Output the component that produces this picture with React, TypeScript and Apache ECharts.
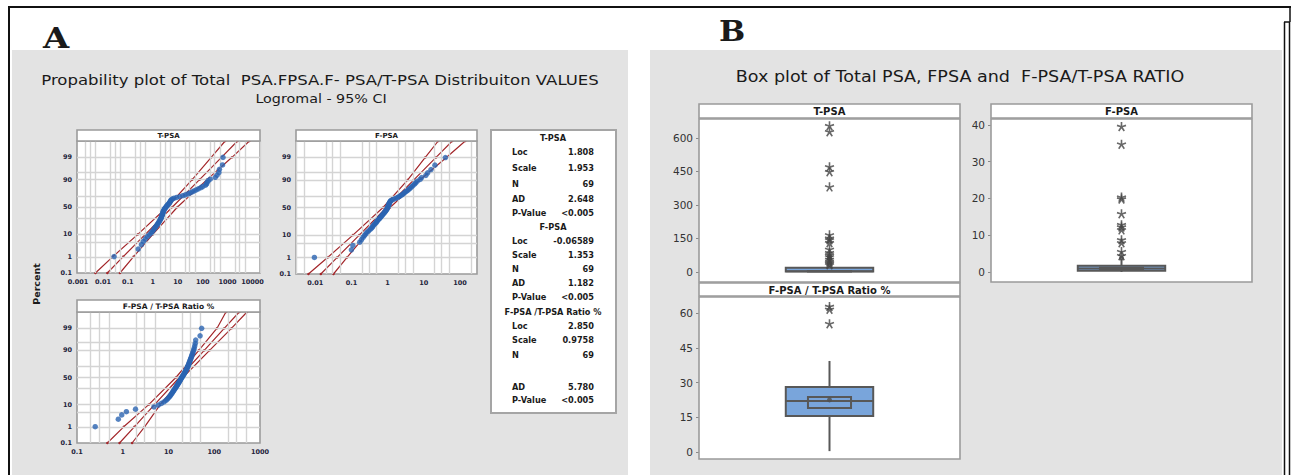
import React, { useEffect, useRef } from "react";
import * as echarts from "echarts";

// ---------------- DATA ----------------
const percentTicks = ["0.1", "1", "10", "50", "90", "99", "99.9"];
const percentGridLines = [1, 5, 10, 30, 50, 70, 90, 95, 99];
const fitPercents = [0.1, 1, 10, 50, 90, 99, 99.9];

const tpsaXTicks = ["0.001", "0.01", "0.1", "1", "10", "100", "1000", "10000"];
const fpsaXTicks = ["0.01", "0.1", "1", "10", "100"];
const ratioXTicks = ["0.1", "1", "10", "100", "1000"];

// sorted sample values (N = 69)
const tpsaValues = [0.028, 0.26, 0.35, 0.42, 0.5, 0.6, 0.72, 0.85, 0.95, 1.05, 1.15, 1.25, 1.35, 1.45, 1.55, 1.65, 1.75, 1.85, 1.95, 2.05, 2.1, 2.2, 2.25, 2.3, 2.4, 2.45, 2.5, 2.55, 2.6, 2.7, 2.8, 2.9, 3.0, 3.2, 3.4, 3.6, 3.8, 4.0, 4.3, 4.6, 4.8, 5.0, 5.2, 5.5, 6.0, 7.0, 9.0, 12, 16, 20, 26, 31, 38, 45, 55, 67, 85, 100, 130, 143, 150, 165, 200, 320, 380, 448, 470, 627, 654];
const fpsaValues = [0.0095, 0.1, 0.11, 0.17, 0.19, 0.21, 0.23, 0.25, 0.27, 0.3, 0.33, 0.36, 0.38, 0.4, 0.42, 0.45, 0.48, 0.5, 0.52, 0.55, 0.58, 0.61, 0.64, 0.67, 0.7, 0.73, 0.76, 0.8, 0.83, 0.86, 0.9, 0.93, 0.96, 0.98, 1.0, 1.02, 1.04, 1.06, 1.08, 1.1, 1.13, 1.16, 1.2, 1.25, 1.4, 1.6, 1.8, 2.0, 2.2, 2.4, 2.6, 2.8, 3.0, 3.3, 3.6, 3.9, 4.2, 4.6, 5.0, 5.5, 6.0, 6.6, 7.9, 8.7, 11.4, 12.8, 15.8, 20.3, 39.5];
const ratioValues = [0.25, 0.8, 0.95, 1.2, 1.9, 4.8, 6.0, 7.0, 8.0, 8.8, 9.4, 10.0, 10.5, 11.0, 11.4, 11.8, 12.2, 12.6, 13.0, 13.4, 13.8, 14.2, 14.6, 15.0, 15.4, 15.8, 16.2, 16.6, 17.0, 17.4, 17.8, 18.2, 18.6, 19.0, 19.5, 20.0, 20.5, 21.0, 21.5, 22.0, 22.5, 23.0, 23.5, 24.0, 24.5, 25.0, 25.5, 26.0, 26.5, 27.0, 27.5, 28.0, 28.5, 29.0, 29.6, 30.2, 30.8, 31.5, 32.2, 33.0, 33.8, 34.6, 35.5, 36.5, 37.5, 38.5, 39.3, 49, 53];

// fitted line and 95% CI bounds at fitPercents
const tpsaFit = [0.015, 0.065, 0.5, 6.1, 75, 570, 2500];
const tpsaLower = [0.005, 0.025, 0.25, 3.8, 38, 220, 800];
const tpsaUpper = [0.048, 0.17, 1.0, 9.8, 150, 1500, 7500];
const fpsaFit = [0.0143, 0.04, 0.165, 0.936, 5.3, 21.8, 61.3];
const fpsaLower = [0.0065, 0.022, 0.11, 0.75, 3.6, 11, 25];
const fpsaUpper = [0.032, 0.075, 0.25, 1.17, 7.8, 42, 140];
const ratioFit = [0.85, 1.79, 4.95, 17.3, 60.4, 167, 352];
const ratioLower = [0.46, 1.05, 3.7, 14.5, 46, 115, 180];
const ratioUpper = [1.6, 3.0, 6.6, 20.6, 79, 240, 520];

const statsLines = [
  ["T-PSA", ""], ["Loc", "1.808"], ["Scale", "1.953"], ["N", "69"], ["AD", "2.648"], ["P-Value", "<0.005"],
  ["F-PSA", ""], ["Loc", "-0.06589"], ["Scale", "1.353"], ["N", "69"], ["AD", "1.182"], ["P-Value", "<0.005"],
  ["F-PSA /T-PSA Ratio %", ""], ["Loc", "2.850"], ["Scale", "0.9758"], ["N", "69"], ["AD", "5.780"], ["P-Value", "<0.005"],
];

// box plots: [min, Q1, median, Q3, max, ciLow, ciHigh]
const tpsaBox = [0.03, 1.6, 3.3, 19, 28, 2.4, 4.6];
const fpsaBox = [0.01, 0.38, 0.95, 1.7, 3.6, 0.75, 1.2];
const ratioBox = [0.4, 15.6, 22, 28.1, 39.3, 19, 23.8];
const tpsaMean = 60;
const fpsaMean = 3.8;
const ratioMean = 22.5;
const tpsaOutliers = [654, 627, 470, 448, 380, 165, 150, 143, 130, 100, 85, 75, 67, 55, 45, 38, 31];
const fpsaOutliers = [39.5, 34.7, 20.3, 19.8, 15.8, 12.8, 12.2, 11.4, 8.7, 7.9, 5.5, 4.4];
const ratioOutliers = [62.7, 61.5, 55.3];
const tpsaBoxTicks = [0, 150, 300, 450, 600];
const fpsaBoxTicks = [0, 10, 20, 30, 40];
const ratioBoxTicks = [0, 15, 30, 45, 60];

// ---------------- HELPERS ----------------
function probit(p: number): number {
  const a = [-3.969683028665376e1, 2.209460984245205e2, -2.759285104469687e2, 1.38357751867269e2, -3.066479806614716e1, 2.506628277459239];
  const b = [-5.447609879822406e1, 1.615858368580409e2, -1.556989798598866e2, 6.680131188771972e1, -1.328068155288572e1];
  const c = [-7.784894002430293e-3, -3.223964580411365e-1, -2.400758277161838, -2.549732539343734, 4.374664141464968, 2.938163982698783];
  const d = [7.784695709041462e-3, 3.224671290700398e-1, 2.445134137142996, 3.754408661907416];
  const pl = 0.02425;
  if (p < pl) {
    const q = Math.sqrt(-2 * Math.log(p));
    return (((((c[0] * q + c[1]) * q + c[2]) * q + c[3]) * q + c[4]) * q + c[5]) / ((((d[0] * q + d[1]) * q + d[2]) * q + d[3]) * q + 1);
  }
  if (p <= 1 - pl) {
    const q = p - 0.5, r = q * q;
    return ((((((a[0] * r + a[1]) * r + a[2]) * r + a[3]) * r + a[4]) * r + a[5]) * q) / (((((b[0] * r + b[1]) * r + b[2]) * r + b[3]) * r + b[4]) * r + 1);
  }
  const q = Math.sqrt(-2 * Math.log(1 - p));
  return -(((((c[0] * q + c[1]) * q + c[2]) * q + c[3]) * q + c[4]) * q + c[5]) / ((((d[0] * q + d[1]) * q + d[2]) * q + d[3]) * q + 1);
}

const FONT = "'DejaVu Sans', sans-serif";
const BLUE = "#2a64b2";
const RED = "#a3262a";
const ZMIN = probit(0.001);
const ZMAX = probit(0.999);
const ASTERISK = "path://M4.2,0 H5.8 V3.6 L9.2,2.5 L9.7,4.0 L6.3,5.1 L8.4,8.1 L7.1,9.0 L5,6.1 L2.9,9.0 L1.6,8.1 L3.7,5.1 L0.3,4.0 L0.8,2.5 L4.2,3.6 Z";

function findLabel(labels: string[], v: number, toValue: (s: string) => number) {
  for (const l of labels) if (Math.abs(toValue(l) - v) < 1e-6) return l;
  return "";
}

function probXAxis(gi: number, min: number, max: number, ticks: string[]) {
  const conv = (s: string) => Math.log10(parseFloat(s));
  return {
    type: "value", gridIndex: gi, min, max,
    axisLine: { show: false }, axisTick: { show: false }, splitLine: { show: false },
    axisLabel: {
      customValues: ticks.map(conv), formatter: (v: number) => findLabel(ticks, v, conv),
      fontSize: 6.5, fontWeight: "bold", color: "#22223a", margin: 5, fontFamily: FONT,
      showMinLabel: true, showMaxLabel: true,
    },
  };
}

function probYAxis(gi: number) {
  const conv = (s: string) => probit(parseFloat(s) / 100);
  return {
    type: "value", gridIndex: gi, min: ZMIN, max: ZMAX,
    axisLine: { show: false }, axisTick: { show: false }, splitLine: { show: false },
    axisLabel: {
      customValues: percentTicks.map(conv), formatter: (v: number) => findLabel(percentTicks, v, conv),
      fontSize: 6.5, fontWeight: "bold", color: "#22223a", margin: 5, fontFamily: FONT,
      showMinLabel: true, showMaxLabel: true,
    },
  };
}

function probSeries(gi: number, values: number[], fit: number[], lo: number[], hi: number[], decades: number[]) {
  const n = values.length;
  const pts = values.map((v, i) => [Math.log10(v), probit((i + 1 - 0.3) / (n + 0.4))]);
  const line = (arr: number[]) => arr.map((v, i) => [Math.log10(v), probit(fitPercents[i] / 100)]);
  const gridX: any[] = [];
  for (const d of decades) for (const m of [2, 3, 5]) gridX.push({ xAxis: d + Math.log10(m) });
  const gridY = percentGridLines.map((p) => ({ yAxis: probit(p / 100) }));
  const lineStyle = { color: RED, width: 1.2 };
  const common = { type: "line", xAxisIndex: gi, yAxisIndex: gi, symbol: "circle", symbolSize: 2.5, itemStyle: { color: RED }, lineStyle, silent: true };
  return [
    {
      ...common, data: line(fit), z: 2,
      markLine: {
        silent: true, symbol: ["none", "none"], label: { show: false },
        lineStyle: { color: "#d4d4d4", width: 1.4, type: "solid" }, animation: false,
        data: [...gridX, ...gridY],
      },
    },
    { ...common, data: line(lo), z: 3 },
    { ...common, data: line(hi), z: 3 },
    { type: "scatter", xAxisIndex: gi, yAxisIndex: gi, data: pts, symbolSize: 5.5, itemStyle: { color: BLUE }, z: 5, silent: true },
  ];
}

function boxRender(_params: any, api: any) {
  const v = [1, 2, 3, 4, 5, 6, 7].map((i) => api.value(i));
  const cat = api.value(0);
  const band = api.size([1, 0])[0];
  const w = band * 0.335, wi = band * 0.165;
  const y = (val: number) => api.coord([cat, val])[1];
  const cx = api.coord([cat, v[2]])[0];
  const stroke = "#585858";
  return {
    type: "group",
    children: [
      { type: "line", shape: { x1: cx, y1: y(v[1]), x2: cx, y2: y(v[0]) }, style: { stroke, lineWidth: 2 } },
      { type: "line", shape: { x1: cx, y1: y(v[3]), x2: cx, y2: y(v[4]) }, style: { stroke, lineWidth: 2 } },
      { type: "rect", shape: { x: cx - w / 2, y: y(v[3]), width: w, height: y(v[1]) - y(v[3]) }, style: { fill: "#79a5db", stroke, lineWidth: 2 } },
      { type: "line", shape: { x1: cx - w / 2, y1: y(v[2]), x2: cx + w / 2, y2: y(v[2]) }, style: { stroke, lineWidth: 2 } },
      { type: "rect", shape: { x: cx - wi / 2, y: y(v[6]), width: wi, height: y(v[5]) - y(v[6]) }, style: { fill: "none", stroke, lineWidth: 2 } },
    ],
  };
}

function boxAxes(gi: number, name: string, min: number, max: number, ticks: number[]) {
  return {
    x: {
      type: "category", gridIndex: gi, data: [name],
      axisLine: { show: false }, axisTick: { show: false }, axisLabel: { show: false }, splitLine: { show: false },
    },
    y: {
      type: "value", gridIndex: gi, min, max,
      axisLine: { show: false }, splitLine: { show: false },
      axisTick: { show: true, customValues: ticks, length: 3, lineStyle: { color: "#888" } },
      axisLabel: { customValues: ticks, fontSize: 10.5, color: "#333", margin: 6, fontFamily: FONT },
    },
  };
}

function boxSeries(gi: number, box: number[], mean: number, outliers: number[]) {
  return [
    { type: "custom", xAxisIndex: gi, yAxisIndex: gi, renderItem: boxRender, data: [[0, ...box]], encode: { x: 0, y: [1, 2, 3, 4, 5] }, z: 3, silent: true },
    { type: "scatter", xAxisIndex: gi, yAxisIndex: gi, data: [[0, mean]], symbol: "circle", symbolSize: 5, itemStyle: { color: "#505050" }, z: 4, silent: true },
    { type: "scatter", xAxisIndex: gi, yAxisIndex: gi, data: outliers.map((o) => [0, o]), symbol: ASTERISK, symbolSize: 9.5, itemStyle: { color: "#444444" }, z: 4, silent: true },
  ];
}

function text(x: number, y: number, t: string, font: string, align = "center", extra: any = {}) {
  return { type: "text", x, y, z: 20, silent: true, style: { text: t, font, fill: "#1a1a1a", textAlign: align, textVerticalAlign: "middle" }, ...extra };
}

function buildOption() {
  const gridDefs = [
    { left: 77, top: 141, width: 183, height: 132 },
    { left: 296, top: 141, width: 181, height: 133 },
    { left: 77, top: 312, width: 183, height: 131 },
    { left: 699, top: 119, width: 261, height: 163 },
    { left: 991, top: 119, width: 261, height: 163 },
    { left: 699, top: 297, width: 261, height: 162 },
  ];
  const grid = gridDefs.map((g) => ({ ...g, show: true, backgroundColor: "#ffffff", borderColor: "#9b9b9b", borderWidth: 1.6, containLabel: false, outerBoundsMode: "none", z: 1 }));

  const bT = boxAxes(3, "T-PSA", -45, 685, tpsaBoxTicks);
  const bF = boxAxes(4, "F-PSA", -2.7, 41.6, fpsaBoxTicks);
  const bR = boxAxes(5, "F-PSA / T-PSA Ratio %", -3, 66.9, ratioBoxTicks);

  const xAxis = [
    probXAxis(0, -3.04, 4.3, tpsaXTicks),
    probXAxis(1, -2.53, 2.47, fpsaXTicks),
    probXAxis(2, -1, 3, ratioXTicks),
    bT.x, bF.x, bR.x,
  ];
  const yAxis = [probYAxis(0), probYAxis(1), probYAxis(2), bT.y, bF.y, bR.y];

  const series = [
    ...probSeries(0, tpsaValues, tpsaFit, tpsaLower, tpsaUpper, [-3, -2, -1, 0, 1, 2, 3, 4]),
    ...probSeries(1, fpsaValues, fpsaFit, fpsaLower, fpsaUpper, [-3, -2, -1, 0, 1, 2]),
    ...probSeries(2, ratioValues, ratioFit, ratioLower, ratioUpper, [-1, 0, 1, 2]),
    ...boxSeries(3, tpsaBox, tpsaMean, tpsaOutliers),
    ...boxSeries(4, fpsaBox, fpsaMean, fpsaOutliers),
    ...boxSeries(5, ratioBox, ratioMean, ratioOutliers),
  ];

  const g: any[] = [];
  // gray panels
  g.push({ type: "rect", z: -5, silent: true, shape: { x: 12, y: 50, width: 616, height: 425 }, style: { fill: "#e3e3e3" } });
  g.push({ type: "rect", z: -5, silent: true, shape: { x: 650, y: 50, width: 632, height: 425 }, style: { fill: "#e3e3e3" } });
  // frame
  const black = { stroke: "#111", lineWidth: 2 };
  g.push({ type: "line", z: 20, silent: true, shape: { x1: 8, y1: 7, x2: 1291, y2: 7 }, style: black });
  g.push({ type: "line", z: 20, silent: true, shape: { x1: 9, y1: 7, x2: 9, y2: 475 }, style: black });
  g.push({ type: "line", z: 20, silent: true, shape: { x1: 1290, y1: 7, x2: 1290, y2: 22 }, style: { stroke: "#111", lineWidth: 1.5 } });
  g.push({ type: "line", z: 20, silent: true, shape: { x1: 1284, y1: 22, x2: 1290, y2: 22 }, style: { stroke: "#111", lineWidth: 1.5 } });
  g.push({ type: "line", z: 20, silent: true, shape: { x1: 1284.5, y1: 22, x2: 1284.5, y2: 475 }, style: { stroke: "#111", lineWidth: 1.5 } });
  g.push({ type: "line", z: 20, silent: true, shape: { x1: 1289.5, y1: 22, x2: 1289.5, y2: 475 }, style: { stroke: "#111", lineWidth: 1.5 } });
  // panel letters
  g.push(text(43, 38, "A", "bold 27px 'DejaVu Serif', serif", "left", { scaleX: 1.25 }));
  g.push(text(719, 32, "B", "bold 27px 'DejaVu Serif', serif", "left", { scaleX: 1.15 }));
  // titles
  g.push(text(320, 80, "Propability plot of Total  PSA.FPSA.F- PSA/T-PSA Distribuiton VALUES", `14px ${FONT}`, "center", { scaleX: 1.18 }));
  g.push(text(321, 98, "Logromal - 95% CI", `13px ${FONT}`, "center", { scaleX: 1.1 }));
  g.push(text(960, 77, "Box plot of Total PSA, FPSA and  F-PSA/T-PSA RATIO", `15px ${FONT}`, "center", { scaleX: 1.17 }));
  // strips
  const strips = [
    [77, 130, 183, 11, "T-PSA", 7],
    [296, 130, 181, 11, "F-PSA", 7],
    [77, 300, 183, 12, "F-PSA / T-PSA Ratio %", 7.5],
    [699, 104, 261, 14, "T-PSA", 10],
    [991, 104, 261, 14, "F-PSA", 10],
    [699, 283, 261, 13, "F-PSA / T-PSA Ratio %", 10],
  ] as const;
  for (const [x, y, w, h, t, fs] of strips) {
    g.push({ type: "rect", z: 10, silent: true, shape: { x, y, width: w, height: h }, style: { fill: "#fff", stroke: "#9b9b9b", lineWidth: 1.6 } });
    g.push(text(x + w / 2, y + h / 2 + 0.5, t, `bold ${fs}px ${FONT}`));
  }
  // Percent label
  g.push(text(36, 284, "Percent", `bold 9.5px ${FONT}`, "center", { rotation: Math.PI / 2 }));
  // stats box
  g.push({ type: "rect", z: 10, silent: true, shape: { x: 491, y: 130, width: 125, height: 283 }, style: { fill: "#fff", stroke: "#a5a5a5", lineWidth: 2 } });
  const rowY = [138, 152, 168, 184, 199, 213, 227, 241, 255, 269, 283, 297, 312, 326, 340, 355, 387, 400];
  statsLines.forEach(([a, b], i) => {
    if (b === "") g.push(text(553, rowY[i], a, `bold 8.2px ${FONT}`));
    else {
      g.push(text(512, rowY[i], a, `bold 8.2px ${FONT}`, "left"));
      g.push(text(594, rowY[i], b, `bold 8.2px ${FONT}`, "right"));
    }
  });

  return {
    animation: false,
    backgroundColor: "#ffffff",
    textStyle: { fontFamily: FONT },
    grid, xAxis, yAxis, series,
    graphic: { elements: g },
  };
}

export default function App() {
  const ref = useRef<HTMLDivElement>(null);
  useEffect(() => {
    const chart = echarts.init(ref.current!, null, { renderer: "svg", width: 1296, height: 475 });
    chart.setOption(buildOption() as any);
    return () => chart.dispose();
  }, []);
  return <div ref={ref} style={{ position: "fixed", left: 0, top: 0, width: 1296, height: 475 }} />;
}
